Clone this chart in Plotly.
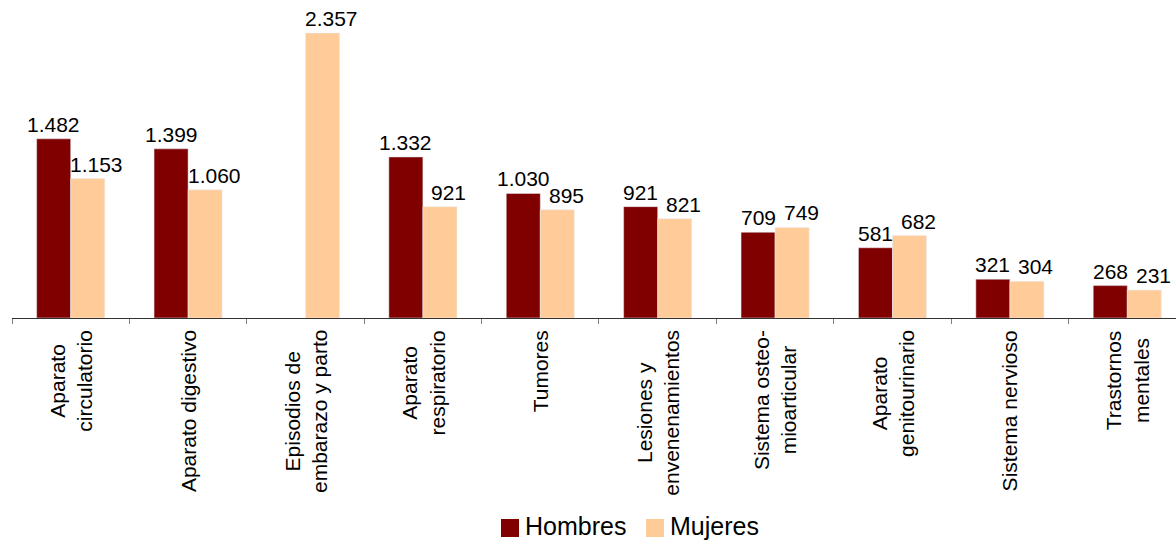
import plotly.graph_objects as go

categories = [
    "Aparato<br>circulatorio",
    "Aparato digestivo",
    "Episodios de<br>embarazo y parto",
    "Aparato<br>respiratorio",
    "Tumores",
    "Lesiones y<br>envenenamientos",
    "Sistema osteo-<br>mioarticular",
    "Aparato<br>genitourinario",
    "Sistema nervioso",
    "Trastornos<br>mentales",
]
hombres = [1482, 1399, None, 1332, 1030, 921, 709, 581, 321, 268]
mujeres = [1153, 1060, 2357, 921, 895, 821, 749, 682, 304, 231]
series_names = ["Hombres", "Mujeres"]

COL_H = "#800000"
COL_M = "#FFCC99"
FONT = "Liberation Sans, Arial, sans-serif"

W, H = 1176, 540
ML, MR, MT, MB = 12, 0, 0, 222
PW, PH = W - ML - MR, H - MT - MB

BARGAP = 0.42
half = (1 - BARGAP) / 4  # offset of each bar centre from the category centre

def fmt(v):
    return f"{v:,}".replace(",", ".")

def px_x(px):
    return (px - ML) / PW

def px_y(py):
    return (H - MB - py) / PH

idx = list(range(len(categories)))

fig = go.Figure()
fig.add_trace(go.Bar(name=series_names[0], x=idx, y=hombres, marker_color=COL_H, showlegend=False))
fig.add_trace(go.Bar(name=series_names[1], x=idx, y=mujeres, marker_color=COL_M, showlegend=False))

annotations = []
for i, (h, m) in enumerate(zip(hombres, mujeres)):
    if h is not None:
        annotations.append(dict(x=i - half, y=h, xref="x", yref="y", text=fmt(h),
                                showarrow=False, yanchor="bottom", xanchor="center",
                                yshift=1,
                                font=dict(family=FONT, size=21, color="#000")))
    if m is not None:
        annotations.append(dict(x=i + half, y=m, xref="x", yref="y", text=fmt(m),
                                showarrow=False, yanchor="bottom", xanchor="center",
                                xshift=9, yshift=1,
                                font=dict(family=FONT, size=21, color="#000")))
# category labels (centred multi-line, rotated)
for i, c in enumerate(categories):
    annotations.append(dict(x=i, y=0, xref="x", yref="y", text=c, textangle=-90,
                            showarrow=False, yanchor="top", xanchor="center", align="center",
                            yshift=-10, font=dict(family=FONT, size=21, color="#000")))

# manual legend at the bottom
shapes = []
legend_items = [(series_names[0], COL_H, 501), (series_names[1], COL_M, 646)]
for name, col, x0 in legend_items:
    shapes.append(dict(type="rect", xref="paper", yref="paper",
                       x0=px_x(x0), x1=px_x(x0 + 18), y0=px_y(537), y1=px_y(519),
                       fillcolor=col, line=dict(width=0)))
    annotations.append(dict(xref="paper", yref="paper", x=px_x(x0 + 22), y=px_y(526),
                            text=name, showarrow=False, xanchor="left", yanchor="middle",
                            font=dict(family=FONT, size=25, color="#000")))

fig.update_layout(
    width=W, height=H,
    margin=dict(l=ML, r=MR, t=MT, b=MB, autoexpand=False),
    paper_bgcolor="white", plot_bgcolor="white",
    barmode="group", bargap=BARGAP, bargroupgap=0,
    showlegend=False,
    xaxis=dict(range=[-0.5, 9.415], tickmode="array",
               tickvals=[i - 0.5 for i in range(11)], ticktext=[""] * 11,
               ticks="outside", ticklen=5, tickcolor="#808080", tickwidth=1,
               showline=True, linecolor="#333333", linewidth=1,
               showgrid=False, zeroline=False),
    yaxis=dict(range=[0, 2630], visible=False, showgrid=False, zeroline=False),
    annotations=annotations,
    shapes=shapes,
)

fig.write_html("out.html")
